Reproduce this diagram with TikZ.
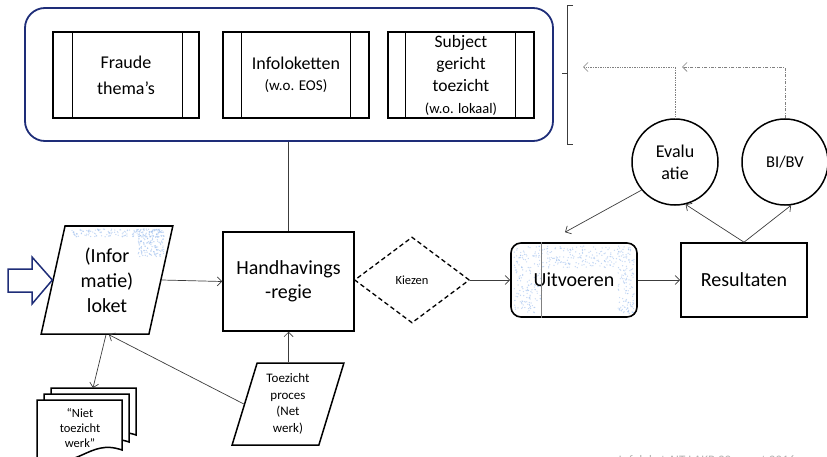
\documentclass[tikz,border=0pt]{standalone}
\usepackage{fontspec}
\setmainfont{Carlito}
\usetikzlibrary{arrows.meta,shapes.geometric,calc}
\definecolor{navy}{RGB}{30,45,120}
\definecolor{speck}{RGB}{150,185,235}
\definecolor{connc}{RGB}{60,60,60}
\newcommand{\fs}[2]{\fontsize{#1}{#2}\selectfont}
\begin{document}
\begin{tikzpicture}[x=1pt,y=-1pt,
  every node/.style={align=center, inner sep=0pt},
  ibox/.style={draw, line width=1.3pt, minimum width=146pt, minimum height=86pt},
  pbox/.style={draw, line width=1.5pt, minimum width=131pt, minimum height=99pt},
  rbox/.style={draw, line width=1.6pt, minimum width=126pt, minimum height=74pt},
  circ/.style={draw, circle, line width=1.5pt, minimum size=86pt},
  para/.style={draw, trapezium, trapezium stretches=true, line width=1.5pt},
  conn/.style={draw=connc, line width=0.7pt, -{Straight Barb[length=4.5pt,width=9pt]}},
  plain/.style={draw=connc, line width=0.7pt},
  doc/.style={draw, line width=1.5pt, fill=white}
]
\useasboundingbox (0,0) rectangle (827,457);

% speckles (scan texture)
\pgfmathsetseed{3}
\foreach \i in {1,...,260}{\fill[speck, opacity=0.55] ({514+rnd*120},{246+rnd*22}) circle (0.7pt);}
\foreach \i in {1,...,120}{\fill[speck, opacity=0.55] ({514+rnd*28},{266+rnd*48}) circle (0.7pt);}
\foreach \i in {1,...,100}{\fill[speck, opacity=0.55] ({618+rnd*16},{266+rnd*48}) circle (0.7pt);}
\foreach \i in {1,...,140}{\fill[speck, opacity=0.55] ({72+rnd*90},{229+rnd*8}) circle (0.7pt);}
\foreach \i in {1,...,160}{\fill[speck, opacity=0.6] ({138+rnd*26},{229+rnd*28}) circle (0.7pt);}

% top frame
\node[draw=navy, line width=1.8pt, rounded corners=20pt, minimum width=528pt, minimum height=133pt] (frame) at (289,74.5) {};
\node[ibox, font=\fs{18}{26}] (f1) at (126,75) {Fraude\\thema’s};
\node[ibox, font=\fs{18}{21.5}] (f2) at (296,75) {Infoloketten\\{\fs{15}{18}(w.o. EOS)}};
\node[ibox, font=\fs{17.5}{22}] (f3) at (461,75) {Subject\\gericht\\toezicht\\{\fs{14.5}{18}(w.o. lokaal)}};
\foreach \b/\l/\r in {f1/20/17, f2/19/19, f3/18/19}{
  \draw[line width=1.3pt] ([xshift=\l pt]\b.north west |- f1.north) -- ([xshift=\l pt]\b.south west |- f1.south);
  \draw[line width=1.3pt] ([xshift=-\r pt]\b.north east |- f1.north) -- ([xshift=-\r pt]\b.south east |- f1.south);
}

% bracket
\draw[connc, line width=0.8pt] (573,5) -- (567,5) -- (567,144) -- (573,144);
\draw[connc, line width=0.8pt] (567,73) -- (562,73);

% main flow
\node[para, trapezium left angle=77, trapezium right angle=103, minimum width=132pt, minimum height=108pt, font=\fs{20}{25}] (info) at (107,280) {(Infor\\matie)\\loket};
\node[pbox, font=\fs{20}{24}] (hh) at (288.5,281.5) {Handhavings\\-regie};
\node[draw, diamond, dashed, dash pattern=on 4.5pt off 3pt, line width=1.3pt, minimum width=115pt, minimum height=86pt, font=\fs{12.5}{15}] (kz) at (412,280) {Kiezen};
\node[rbox, rounded corners=10pt, font=\fs{20}{24}] (uit) at (574,280) {Uitvoeren};
\draw[line width=0.5pt, gray] ([xshift=31pt]uit.north west) -- ([xshift=31pt]uit.south west);
\node[rbox, font=\fs{20}{24}] (res) at (744,280) {Resultaten};
\node[circ, font=\fs{18}{22}] (ev) at (675,162) {Evalu\\atie};
\node[circ, font=\fs{16.5}{20}] (bb) at (785,162) {BI/BV};
\node[para, trapezium left angle=74, trapezium right angle=106, minimum width=112pt, minimum height=82pt, font=\fs{13}{16.7}] (tz) at (288,404) {Toezicht\\proces\\(Net\\werk)};

% document stack
\foreach \L/\T/\B in {51/388/435, 44/394/442, 37/400/450}{
  \draw[doc] (\L,\T) -- (\L+85,\T) -- (\L+85,\B) .. controls (\L+51,\B-12) and (\L+42,\B+22) .. (\L,\B+8) -- cycle;
}
\node[font=\fs{12.5}{15}] (niet) at (80,428) {“Niet\\toezicht\\werk”};
\coordinate (nietTop) at (93,388);

% blue input arrow
\draw[navy, line width=1.5pt, fill=white, line join=miter] (8,269) -- (32,269) -- (32,257) -- (info.west) -- (32,304) -- (32,292) -- (8,292) -- cycle;

% connectors
\draw[plain] (hh.north |- frame.south) -- (hh.north);
\draw[conn] (info.east) -- (hh.west);
\draw[conn] (hh.south |- tz.north) -- (hh.south);
\draw[conn] (tz.west) -- ([xshift=2pt]info.south);
\draw[conn] ([xshift=-1pt]info.south) -- (nietTop);
\draw[conn] (kz.east) -- (uit.west);
\draw[conn] (uit.east) -- (res.west);
\draw[conn] (ev.220) -- ($(uit.north)+(-9,-10)$);
\draw[conn] (res.north) -- (ev.284);
\draw[conn] (res.north) -- (bb.-82);
\coordinate (fb1) at (583,67);
\coordinate (fb2) at (682,67);
\draw[conn, gray, densely dotted] (ev.north) |- (fb1);
\draw[conn, gray, dash pattern=on 3pt off 1.5pt on 0.8pt off 1.5pt] (bb.north) |- (fb2);

% footer (cut off at page edge)
\node[anchor=north, text=gray!60, font=\fs{13}{15}] (foot) at (707,455) {Infoloket AIT LAKB 22 maart 2016};
\end{tikzpicture}
\end{document}
